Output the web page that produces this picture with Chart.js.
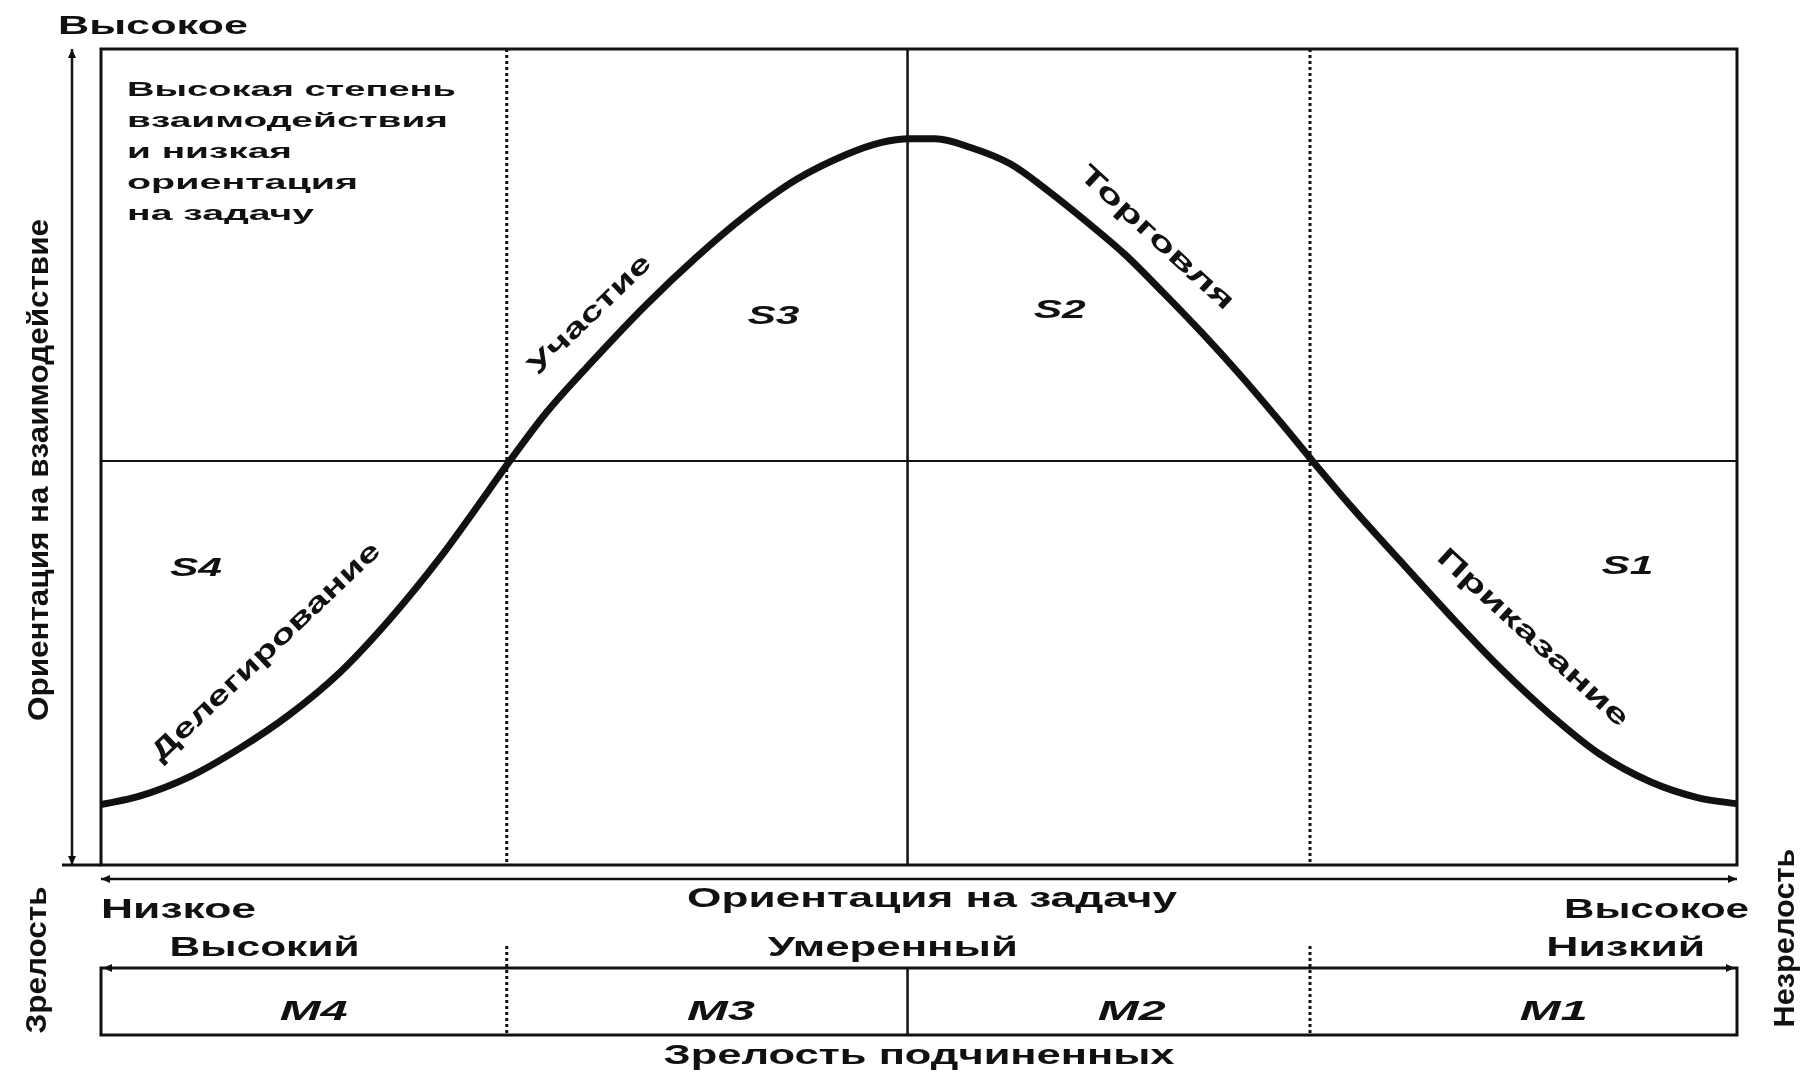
<!DOCTYPE html>
<html lang="ru">
<head>
<meta charset="UTF-8">
<title>Ситуационное руководство</title>
<script src="https://cdn.jsdelivr.net/npm/chart.js@4.4.1/dist/chart.umd.min.js"></script>
<style>
  html, body { margin: 0; padding: 0; background: #fff; }
  canvas { display: block; }
</style>
</head>
<body>
<canvas id="chart" width="1810" height="1076"></canvas>
<script>
// Кривая стиля руководства: x — ориентация на задачу, y — ориентация на взаимодействие (0..100)
const curveX = [0, 2.3, 5.4, 8.4, 11.5, 14.6, 17.6, 20.7, 23.7, 24.8, 27.2, 30.3, 33.3, 36.4, 39.4,
                42.5, 45.6, 47.6, 49.5, 51.0, 53.2, 55.6, 57.9, 60.2, 62.6, 64.9, 67.3, 69.7, 72.0,
                74.1, 76.3, 79.4, 82.4, 85.5, 88.6, 91.6, 94.7, 97.7, 100];
const curveY = [7.4, 8.4, 10.8, 14.2, 18.4, 23.6, 30.0, 37.6, 45.9, 49.0, 55.4, 62.3, 68.6, 74.5, 79.6,
                84.0, 87.1, 88.5, 89.0, 89.0, 87.9, 85.9, 82.6, 78.9, 74.8, 70.2, 65.2, 59.9, 54.5,
                49.4, 44.2, 37.3, 30.7, 24.2, 18.4, 13.6, 10.2, 8.2, 7.5];

// границы зон
const zoneBounds = [24.8, 49.3, 73.9];
const midLevel = 49.5;

const styleNames = ['S4', 'S3', 'S2', 'S1'];
const curveNames = ['Делегирование', 'Участие', 'Торговля', 'Приказание'];
const maturityNames = ['M4', 'M3', 'M2', 'M1'];
const maturityLevels = ['Высокий', 'Умеренный', 'Низкий'];
const noteLines = ['Высокая степень', 'взаимодействия', 'и низкая', 'ориентация', 'на задачу'];

const FONT = '"Liberation Sans", Arial, sans-serif';

// текст, растянутый по длине до нужной ширины (оригинал сильно растянут по горизонтали)
function fitText(ctx, text, x, y, width, size, opts = {}) {
  ctx.save();
  ctx.font = (opts.italic ? 'italic ' : '') + 'bold ' + size + 'px ' + FONT;
  const w = ctx.measureText(text).width;
  ctx.translate(x, y);
  if (opts.angle) ctx.rotate(opts.angle * Math.PI / 180);
  ctx.scale(width / w, 1);
  ctx.textAlign = opts.align || 'center';
  ctx.textBaseline = 'middle';
  ctx.fillStyle = '#111';
  ctx.fillText(text, 0, 0);
  ctx.restore();
}

function seg(ctx, x1, y1, x2, y2) {
  ctx.beginPath();
  ctx.moveTo(x1, y1);
  ctx.lineTo(x2, y2);
  ctx.stroke();
}

function arrow(ctx, x, y, dir) {
  const s = 9, h = 4;
  ctx.beginPath();
  if (dir === 'up') { ctx.moveTo(x, y); ctx.lineTo(x - h, y + s); ctx.lineTo(x + h, y + s); }
  if (dir === 'down') { ctx.moveTo(x, y); ctx.lineTo(x - h, y - s); ctx.lineTo(x + h, y - s); }
  if (dir === 'left') { ctx.moveTo(x, y); ctx.lineTo(x + s, y - h); ctx.lineTo(x + s, y + h); }
  if (dir === 'right') { ctx.moveTo(x, y); ctx.lineTo(x - s, y - h); ctx.lineTo(x - s, y + h); }
  ctx.closePath();
  ctx.fill();
}

const frame = {
  id: 'frame',
  beforeDatasetsDraw(chart) {
    const { ctx, chartArea: a, scales: { x, y } } = chart;
    ctx.save();
    ctx.strokeStyle = '#111';
    ctx.fillStyle = '#111';

    // вертикальные границы зон
    zoneBounds.forEach((v, i) => {
      const px = x.getPixelForValue(v);
      ctx.lineWidth = i === 1 ? 2.5 : 3;
      ctx.setLineDash(i === 1 ? [] : [3, 3]);
      seg(ctx, px, a.top, px, a.bottom);
    });
    ctx.setLineDash([]);

    // горизонтальная граница
    ctx.lineWidth = 2;
    const py = y.getPixelForValue(midLevel);
    seg(ctx, a.left, py, a.right, py);

    // рамка
    ctx.lineWidth = 3;
    ctx.strokeRect(a.left, a.top, a.width, a.height);
    seg(ctx, 62, a.bottom, a.left, a.bottom);

    // ось взаимодействия слева
    ctx.lineWidth = 2.5;
    seg(ctx, 72, a.top, 72, a.bottom);
    arrow(ctx, 72, a.top, 'up');
    arrow(ctx, 72, a.bottom, 'down');

    // ось задачи снизу
    const ay = a.bottom + 14;
    seg(ctx, a.left, ay, a.right, ay);
    arrow(ctx, a.left, ay, 'left');
    arrow(ctx, a.right, ay, 'right');

    // шкала зрелости
    const mTop = a.bottom + 103, mBot = a.bottom + 170;
    ctx.lineWidth = 3;
    ctx.strokeRect(a.left, mTop, a.width, mBot - mTop);
    arrow(ctx, a.left + 2, mTop, 'left');
    arrow(ctx, a.right - 2, mTop, 'right');
    zoneBounds.forEach((v, i) => {
      const px = x.getPixelForValue(v);
      ctx.lineWidth = i === 1 ? 2.5 : 3;
      ctx.setLineDash(i === 1 ? [] : [3, 3]);
      seg(ctx, px, i === 1 ? mTop : mTop - 22, px, mBot);
    });
    ctx.restore();
  },
  afterDraw(chart) {
    const { ctx, chartArea: a, scales: { x, y } } = chart;
    const X = v => x.getPixelForValue(v);
    const Y = v => y.getPixelForValue(v);

    // подписи осей
    fitText(ctx, 'Высокое', 58, 27, 190, 25, { align: 'left' });
    fitText(ctx, 'Ориентация на взаимодействие', 40, 470, 502, 30, { angle: -90 });
    fitText(ctx, 'Низкое', a.left, a.bottom + 46, 155, 27, { align: 'left' });
    fitText(ctx, 'Ориентация на задачу', 932, a.bottom + 35, 490, 27);
    fitText(ctx, 'Высокое', 1749, a.bottom + 46, 185, 27, { align: 'right' });

    // пояснение в левом верхнем углу
    const noteW = [329, 321, 165, 231, 187];
    noteLines.forEach((t, i) => {
      fitText(ctx, t, 127, 90 + i * 31, noteW[i], 21, { align: 'left' });
    });

    // стили S1..S4
    const sPos = [[5.8, 36.3], [41.1, 67.2], [58.6, 67.9], [93.3, 36.6]];
    styleNames.forEach((t, i) => {
      fitText(ctx, t, X(sPos[i][0]), Y(sPos[i][1]), 52, 26, { italic: true });
    });

    // названия участков кривой
    const cPos = [[10.1, 26.1, -43.5, 305], [29.9, 67.4, -44, 160], [64.5, 76.8, 42.6, 200], [87.5, 27.8, 42.6, 250]];
    curveNames.forEach((t, i) => {
      const p = cPos[i];
      fitText(ctx, t, X(p[0]), Y(p[1]), p[3], 27, { angle: p[2] });
    });

    // уровни зрелости
    const lvPos = [[10, 190], [48.4, 250], [93.2, 159]];
    maturityLevels.forEach((t, i) => {
      fitText(ctx, t, X(lvPos[i][0]), a.bottom + 84, lvPos[i][1], 27);
    });

    const mPos = [13.0, 37.9, 63.0, 88.8];
    maturityNames.forEach((t, i) => {
      fitText(ctx, t, X(mPos[i]), a.bottom + 148, 68, 27, { italic: true });
    });

    fitText(ctx, 'Зрелость подчиненных', 919, a.bottom + 192, 511, 27);
    fitText(ctx, 'Зрелость', 38, 960, 147, 30, { angle: -90 });
    fitText(ctx, 'Незрелость', 1786, 938, 179, 30, { angle: -90 });
  }
};

new Chart(document.getElementById('chart'), {
  type: 'scatter',
  data: {
    datasets: [{
      data: curveX.map((v, i) => ({ x: v, y: curveY[i] })),
      showLine: true,
      borderColor: '#111',
      borderWidth: 7,
      pointRadius: 0,
      cubicInterpolationMode: 'monotone',
      fill: false
    }]
  },
  options: {
    responsive: false,
    animation: false,
    devicePixelRatio: 1,
    layout: { padding: { left: 101, right: 73, top: 49, bottom: 211 } },
    plugins: { legend: { display: false }, tooltip: { enabled: false } },
    scales: {
      x: { type: 'linear', min: 0, max: 100, display: false },
      y: { min: 0, max: 100, display: false }
    }
  },
  plugins: [frame]
});
</script>
</body>
</html>
